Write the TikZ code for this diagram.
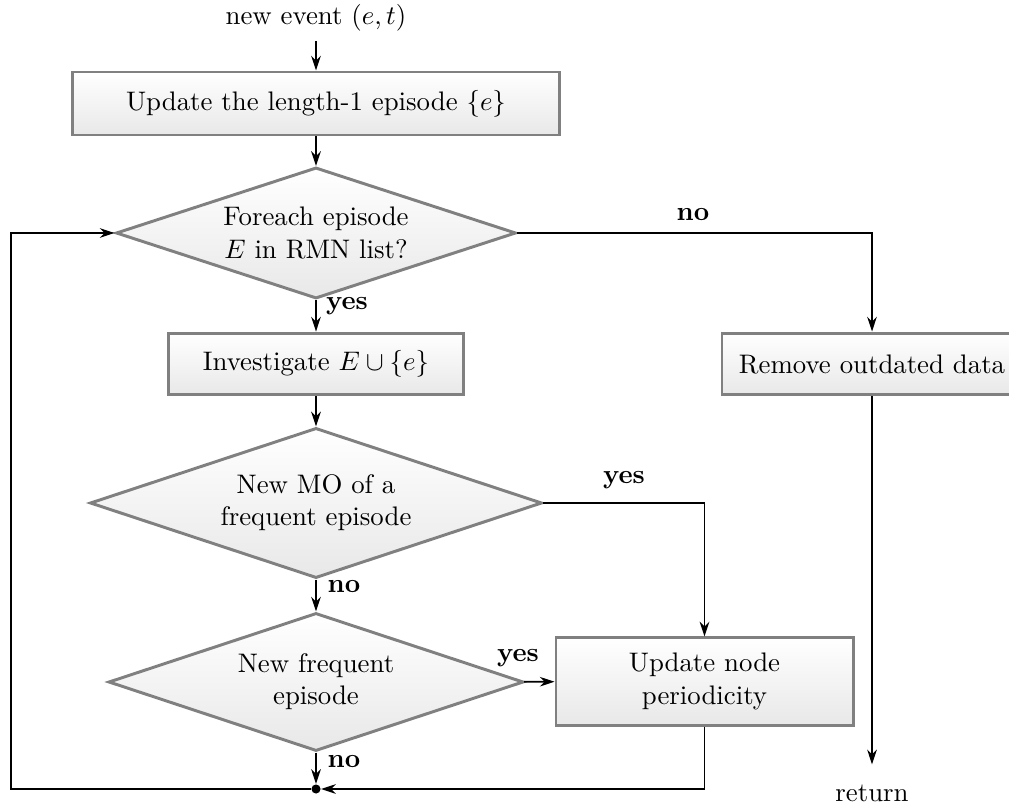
\documentclass[tikz,border=0pt]{standalone}
\usetikzlibrary{shapes.geometric,arrows.meta}
\begin{document}
\begin{tikzpicture}[x=0.373pt,y=-0.373pt,
  box/.style={rectangle,draw=black!50,line width=1.1pt,top color=white,bottom color=black!9,inner sep=0pt,align=center},
  dia/.style={diamond,draw=black!50,line width=1.1pt,top color=white,bottom color=black!9,inner sep=0pt,align=center,aspect=3},
  arr/.style={-{Stealth[length=5.5pt,width=3.6pt]},line width=0.6pt},
  lbl/.style={font=\bfseries,inner sep=0pt}]
\useasboundingbox (0,0) rectangle (1009,805);
\node (start) at (316,18) {new event $(e,t)$};
\coordinate (c0) at (316,41);
\node[box,minimum width=181.3pt,minimum height=23.5pt] (b1) at (316,103.5) {Update the length-1 episode $\{e\}$};
\node[dia,minimum width=149.2pt,minimum height=48.9pt] (d1) at (316,233) {Foreach episode\\$E$ in RMN list?};
\node[box,minimum width=109.7pt,minimum height=23.1pt] (b2) at (316,364) {Investigate $E\cup\{e\}$};
\node[box,minimum width=111.9pt,minimum height=23.1pt] (rm) at (872,364) {Remove outdated data};
\node[dia,minimum width=168.6pt,minimum height=56pt] (d2) at (316,503) {New MO of a\\frequent episode};
\node[dia,minimum width=154.8pt,minimum height=51.5pt] (d3) at (316,682) {New frequent\\episode};
\node[box,minimum width=110.8pt,minimum height=32.5pt] (b3) at (704.5,681.5) {Update node\\periodicity};
\node[circle,fill=black,inner sep=0pt,minimum size=3.4pt] (dot) at (316,789) {};
\node (ret) at (872,793) {return};
\coordinate (cl) at (11,789);
\coordinate (cu) at (11,233);
\coordinate (cr) at (872,233);
\coordinate (c2) at (704.5,503);
\coordinate (c3) at (704.5,789);
% labels
\node[lbl] (l1) at (347,306) {yes};
\node[lbl] (l2) at (344,587) {no};
\node[lbl] (l3) at (344,762) {no};
\node[lbl] (l4) at (518,658) {yes};
\node[lbl] (l5) at (624,480) {yes};
\node[lbl] (l6) at (693,215) {no};
% connectors
\draw[arr] (c0) -- (b1);
\draw[arr] (b1) -- (d1);
\draw[arr] (d1) -- (b2);
\draw[arr] (b2) -- (d2);
\draw[arr] (d2) -- (d3);
\draw[arr] (d3) -- (dot);
\draw[arr] (d3) -- (b3);
\draw[arr] (d2.east) -- (c2) -- (b3.north);
\draw[arr] (b3.south) -- (c3) -- (dot);
\draw[arr] (dot) -- (cl) -- (cu) -- (d1.west);
\draw[arr] (d1.east) -- (cr) -- (rm.north);
\draw[arr,shorten >=4pt] (rm) -- (ret);
\end{tikzpicture}
\end{document}
